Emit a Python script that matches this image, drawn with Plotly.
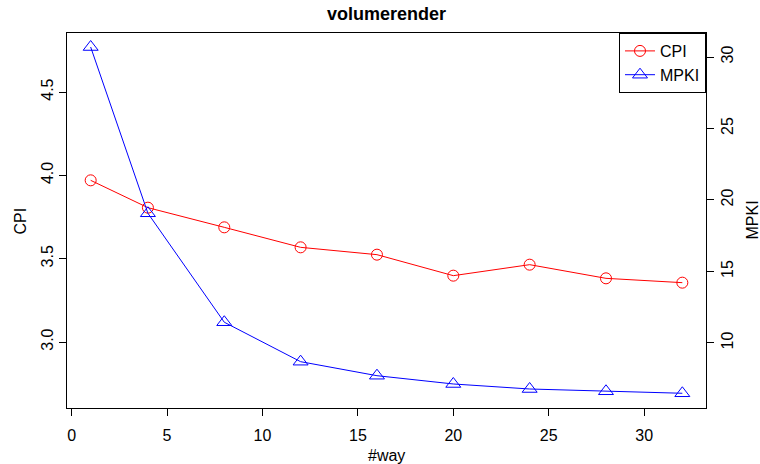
import plotly.graph_objects as go

ways = [1, 4, 8, 12, 16, 20, 24, 28, 32]
cpi = [3.97, 3.806, 3.688, 3.568, 3.524, 3.398, 3.464, 3.382, 3.356]
mpki = [30.7, 19.07, 11.45, 8.69, 7.71, 7.13, 6.78, 6.62, 6.48]
x_ticks = [0, 5, 10, 15, 20, 25, 30]
cpi_ticks = [3.0, 3.5, 4.0, 4.5]
mpki_ticks = [10, 15, 20, 25, 30]

FONT = "Liberation Sans, Arial, sans-serif"
W, H = 760, 464
L, R, T, B = 67, 54, 33, 56
FS = 16

fig = go.Figure()
fig.add_trace(go.Scatter(
    x=ways, y=cpi, name="CPI", mode="lines+markers",
    line=dict(color="red", width=1),
    marker=dict(symbol="circle-open", size=11, color="red", line=dict(width=1)),
))
fig.add_trace(go.Scatter(
    x=ways, y=mpki, name="MPKI", mode="lines+markers", yaxis="y2",
    line=dict(color="blue", width=1),
    marker=dict(symbol="triangle-up-open", size=13, color="blue", line=dict(width=1)),
))

axis_common = dict(
    showgrid=False, zeroline=False, showline=True, linecolor="black", linewidth=1,
    ticks="outside", ticklen=7, tickcolor="black", tickwidth=1, automargin=False,
    tickfont=dict(family=FONT, size=FS, color="black"),
)

pw = W - L - R
ph = H - T - B

fig.update_layout(
    width=W, height=H,
    margin=dict(l=L, r=R, t=T, b=B, autoexpand=False),
    paper_bgcolor="white", plot_bgcolor="white",
    font=dict(family=FONT, size=FS, color="black"),
    title=dict(text="<b>volumerender</b>", x=0.5, xref="paper", xanchor="center",
               y=1 - 14 / H, yanchor="middle", font=dict(family=FONT, size=18, color="black")),
    xaxis=dict(range=[-0.24, 33.24], tickvals=x_ticks, mirror=True,
               ticklabelstandoff=6, **axis_common),
    yaxis=dict(range=[2.604, 4.854], tickvals=cpi_ticks, ticktext=["3.0", "3.5", "4.0", "4.5"],
               mirror=True, tickangle=-90, **axis_common),
    yaxis2=dict(range=[5.45, 31.68], tickvals=mpki_ticks, overlaying="y", side="right",
                tickangle=-90, **axis_common),
    legend=dict(x=1, y=1, xanchor="right", yanchor="top", bordercolor="black", borderwidth=1,
                bgcolor="white", font=dict(family=FONT, size=FS), tracegroupgap=0),
    showlegend=True,
    annotations=[
        dict(text="#way", xref="paper", yref="paper", x=0.5, y=-(455 - (H - B)) / ph,
             xanchor="center", yanchor="middle", showarrow=False, font=dict(size=FS)),
        dict(text="CPI", xref="paper", yref="paper", x=-(L - 20) / pw, y=0.5, textangle=-90,
             xanchor="center", yanchor="middle", showarrow=False, font=dict(size=FS)),
        dict(text="MPKI", xref="paper", yref="paper", x=1 + (752 - (W - R)) / pw, y=0.5, textangle=-90,
             xanchor="center", yanchor="middle", showarrow=False, font=dict(size=FS)),
    ],
)

fig.write_html("out.html", config={"displayModeBar": False},
               post_script="document.body.style.margin='0';document.body.style.overflow='hidden';")
